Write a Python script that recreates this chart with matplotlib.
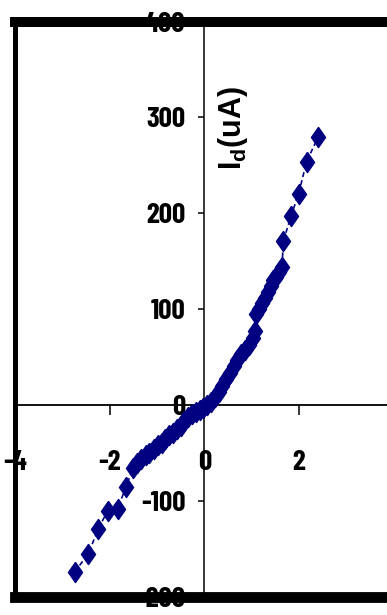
import matplotlib
matplotlib.use("Agg")
import matplotlib.pyplot as plt

# ---- data ----
vd = [-2.74, -2.45, -2.24, -2.04, -1.82, -1.66, -1.50, -1.42, -1.33, -1.24,
      -1.16, -1.07, -0.98, -0.90, -0.82, -0.74, -0.66, -0.58, -0.50, -0.42,
      -0.34, -0.26, -0.18, -0.10, -0.02, 0.06, 0.14, 0.22, 0.30, 0.38,
      0.46, 0.54, 0.62, 0.70, 0.78, 0.86, 0.95, 1.02, 1.07, 1.10,
      1.16, 1.22, 1.28, 1.34, 1.40, 1.46, 1.52, 1.58, 1.64, 1.67,
      1.83, 1.99, 2.16, 2.41]
id_ua = [-174, -155, -129, -110, -108, -85, -66, -60, -56, -52,
         -50, -46, -42, -39, -35, -31, -29, -25, -22, -16,
         -12, -9, -7, -5, -3, 0, 3, 8, 14, 20,
         27, 34, 41, 47, 53, 58, 63, 70, 77, 95,
         100, 106, 112, 118, 124, 130, 134, 139, 144, 171,
         197, 220, 254, 280]
xticks = [-4, -2, 0, 2, 4]
yticks = [-200, -100, 0, 100, 200, 300, 400]
ylabel = "I$_\\mathregular{d}$(uA)"

tick_family = ["Barlow Condensed", "Liberation Sans", "DejaVu Sans"]
label_family = ["Liberation Sans", "DejaVu Sans"]

navy = "#000080"
W, H = 387, 615
fig = plt.figure(figsize=(W / 100, H / 100), dpi=100)
pos = [14.9 / W, 18 / H, 378.8 / W, 575.5 / H]

# frame axes (thick border)
axf = fig.add_axes(pos, zorder=0)
axf.set_xticks([]); axf.set_yticks([])
axf.spines["left"].set_linewidth(3.6)
axf.spines["top"].set_linewidth(7.2)
axf.spines["bottom"].set_linewidth(7.8)
axf.spines["right"].set_visible(False)
for s in axf.spines.values():
    s.set_capstyle("projecting")

ax = fig.add_axes(pos, zorder=1)
ax.patch.set_alpha(0)
ax.set_xlim(-4, 4)
ax.set_ylim(-200, 400)
ax.spines["left"].set_position(("data", 0))
ax.spines["bottom"].set_position(("data", 0))
ax.spines["left"].set_linewidth(1.1)
ax.spines["bottom"].set_linewidth(1.3)
ax.spines["top"].set_visible(False)
ax.spines["right"].set_visible(False)

ax.plot(vd, id_ua, linestyle=(0, (3, 2)), color=navy, lw=1.2,
        marker=[(0, 1), (0.7, 0), (0, -1), (-0.7, 0), (0, 1)],
        markersize=14.5, markerfacecolor=navy, markeredgecolor=navy, zorder=3)

ax.set_xticks(xticks)
ax.set_yticks(yticks)
ax.set_xticklabels([str(v) for v in xticks])
ax.set_yticklabels([str(v) for v in yticks])
ax.tick_params(axis="y", direction="out", length=4.3, width=1.1, pad=9.4)
ax.tick_params(axis="x", direction="out", length=7.2, width=1.1, pad=25)
for lab in ax.get_xticklabels() + ax.get_yticklabels():
    lab.set_fontfamily(tick_family)
    lab.set_fontweight("bold")
    lab.set_fontsize(21)
    lab.set_clip_on(False)

ax.text((233 - 14.9) / 378.8, (597 - 128) / 575.5, ylabel, transform=ax.transAxes,
        rotation=90, ha="center", va="center", fontsize=22, fontweight="bold",
        family=label_family)

fig.savefig("out.png", dpi=100)
